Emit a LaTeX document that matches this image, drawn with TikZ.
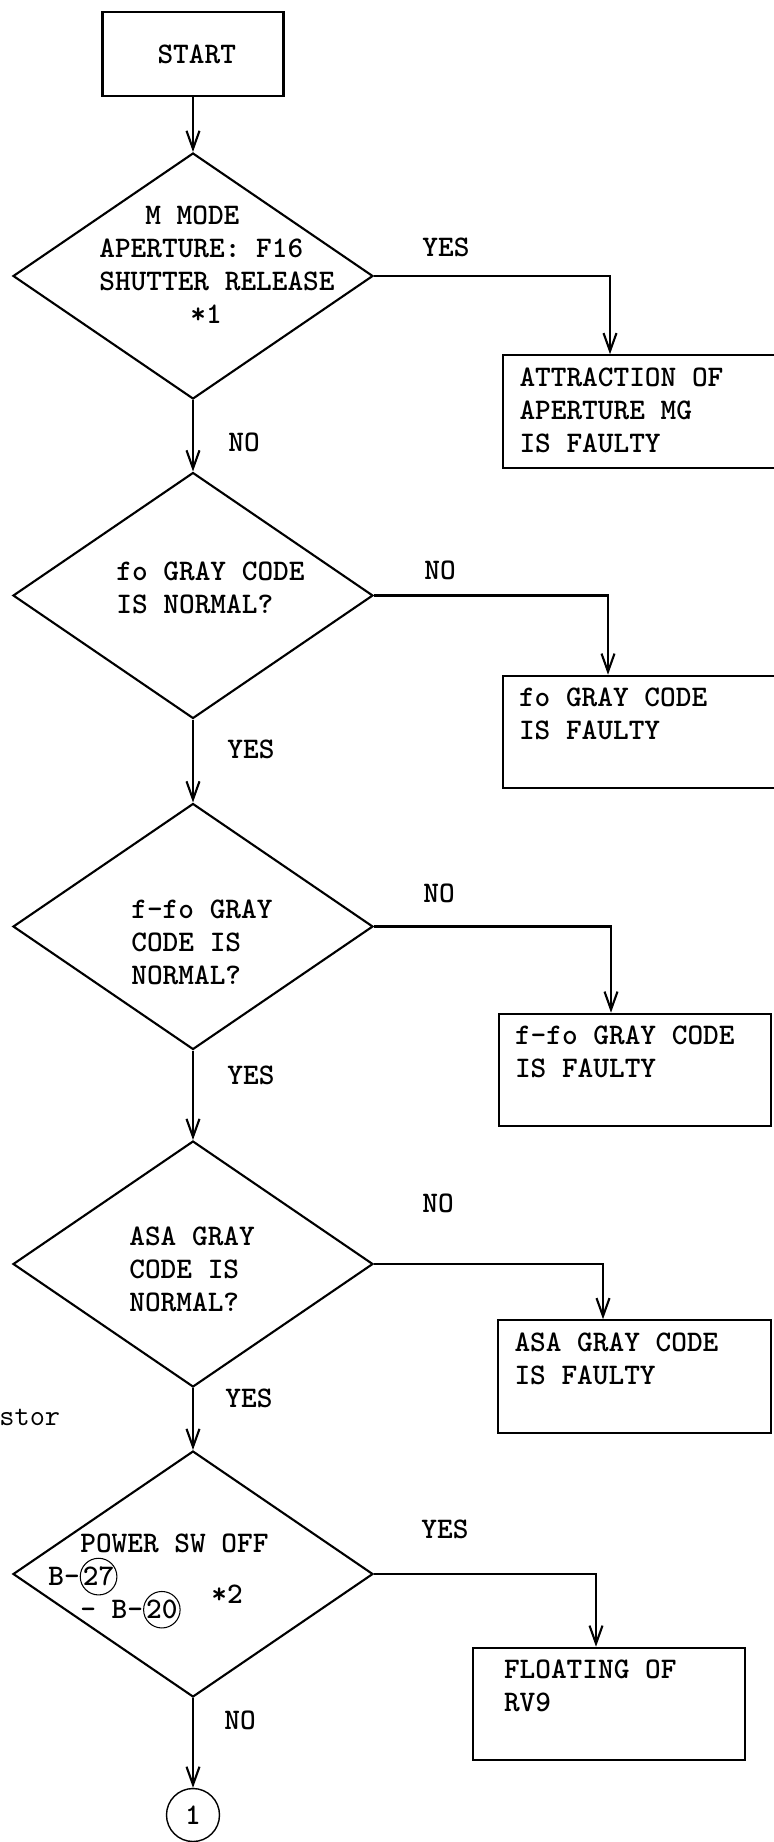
\documentclass[tikz,border=0pt]{standalone}
\usepackage{fontspec}
\usetikzlibrary{shapes.geometric,arrows.meta}

\newcommand{\ringed}[2]{\smash{\tikz[baseline=(#1.base)]\node[circle, draw, line width=0.6pt, inner sep=0pt] (#1) {#2};}}
\newcommand{\boxlines}[1]{\parbox[c][1.75cm][t]{4.8cm}{#1}}

\begin{document}
\begin{tikzpicture}[node distance=6.5cm,
  >={Straight Barb[length=0.36cm,width=0.26cm]},
  every node/.style={font=\ttfamily\bfseries\fontsize{17}{18.8}\selectfont},
  startbox/.style={rectangle, draw, very thick, minimum width=3.62cm, minimum height=1.68cm},
  decision/.style={diamond, draw, very thick, minimum width=7.2cm, minimum height=4.92cm, inner sep=0pt},
  resultbox/.style={rectangle, draw, very thick, minimum width=5.45cm, minimum height=2.25cm},
  offpage/.style={circle, draw, thick, minimum size=1.06cm, inner sep=0pt},
  qtext/.style={anchor=west, inner sep=0pt, align=left},
  lbl/.style={inner sep=0pt},
  link/.style={->, very thick}]
\useasboundingbox (0,0) rectangle (15.46,-36.84);

\node (start) [startbox] at (3.86,-1.08) {\hspace*{0.15cm}START};
\node (q1) [decision, below of=start, yshift=2.06cm] {};
\node (q2) [decision, below of=q1, yshift=0.11cm] {};
\node (q3) [decision, below of=q2, yshift=-0.12cm] {};
\node (q4) [decision, below of=q3, yshift=-0.25cm] {};
\node (q5) [decision, below of=q4, yshift=0.30cm] {};
\node (c1) [offpage, below of=q5, yshift=1.68cm] {1};

% texts inside the diamonds
\node (q1t) [qtext] at (1.98,-5.30) {\hspace*{0.92cm}M MODE\\APERTURE: F16\\SHUTTER RELEASE\\\hspace*{1.82cm}*1};
\node (q2t) [qtext] at (2.32,-11.76) {fo GRAY CODE\\IS NORMAL?};
\node (q3t) [qtext] at (2.62,-18.84) {f-fo GRAY\\CODE IS\\NORMAL?};
\node (q4t) [qtext] at (2.58,-25.38) {ASA GRAY\\CODE IS\\NORMAL?};
\node (q5t) [qtext] at (0.96,-31.53) {\hspace*{0.64cm}POWER SW OFF\\B-\ringed{b27}{27}\\\hspace*{0.64cm}- B-\ringed{b20}{20}};
\node (q5star) [lbl] at (4.54,-31.88) {*2};

\node (r1) [resultbox, right of=q1, xshift=2.43cm, yshift=-2.71cm] {\boxlines{ATTRACTION OF\\APERTURE MG\\IS FAULTY}};
\node (r2) [resultbox, right of=q2, xshift=2.42cm, yshift=-2.73cm] {\boxlines{fo GRAY CODE\\IS FAULTY}};
\node (r3) [resultbox, right of=q3, xshift=2.34cm, yshift=-2.87cm] {\boxlines{f-fo GRAY CODE\\IS FAULTY}};
\node (r4) [resultbox, right of=q4, xshift=2.33cm, yshift=-2.25cm] {\boxlines{ASA GRAY CODE\\IS FAULTY}};
\node (r5) [resultbox, right of=q5, xshift=1.82cm, yshift=-2.60cm] {\boxlines{\hspace*{0.3cm}FLOATING OF\\\hspace*{0.3cm}RV9}};

\node (stor) [anchor=west, inner sep=0pt, font=\ttfamily\fontsize{16.8}{18}\selectfont] at (-0.02,-28.34) {stor};

% branch labels
\node (q1yes) [lbl] at (8.92,-4.94) {YES};
\node (q1no) [lbl] at (4.88,-8.84) {NO};
\node (q2no) [lbl] at (8.80,-11.40) {NO};
\node (q2yes) [lbl] at (5.02,-14.98) {YES};
\node (q3no) [lbl] at (8.78,-17.86) {NO};
\node (q3yes) [lbl] at (5.02,-21.50) {YES};
\node (q4no) [lbl] at (8.76,-24.06) {NO};
\node (q4yes) [lbl] at (4.98,-27.97) {YES};
\node (q5yes) [lbl] at (8.90,-30.58) {YES};
\node (q5no) [lbl] at (4.80,-34.40) {NO};

\draw[link] (start) -- (q1);
\draw[link] (q1) -- (q2);
\draw[link] (q2) -- (q3);
\draw[link] (q3) -- (q4);
\draw[link] (q4) -- (q5);
\draw[link] (q5) -- (c1);
\draw[link] (q1.east) -| ([xshift=-0.59cm]r1.north);
\draw[link] (q2.east) -| ([xshift=-0.62cm]r2.north);
\draw[link] (q3.east) -| ([xshift=-0.48cm]r3.north);
\draw[link] (q4.east) -| ([xshift=-0.63cm]r4.north);
\draw[link] (q5.east) -| ([xshift=-0.26cm]r5.north);
\end{tikzpicture}
\end{document}
